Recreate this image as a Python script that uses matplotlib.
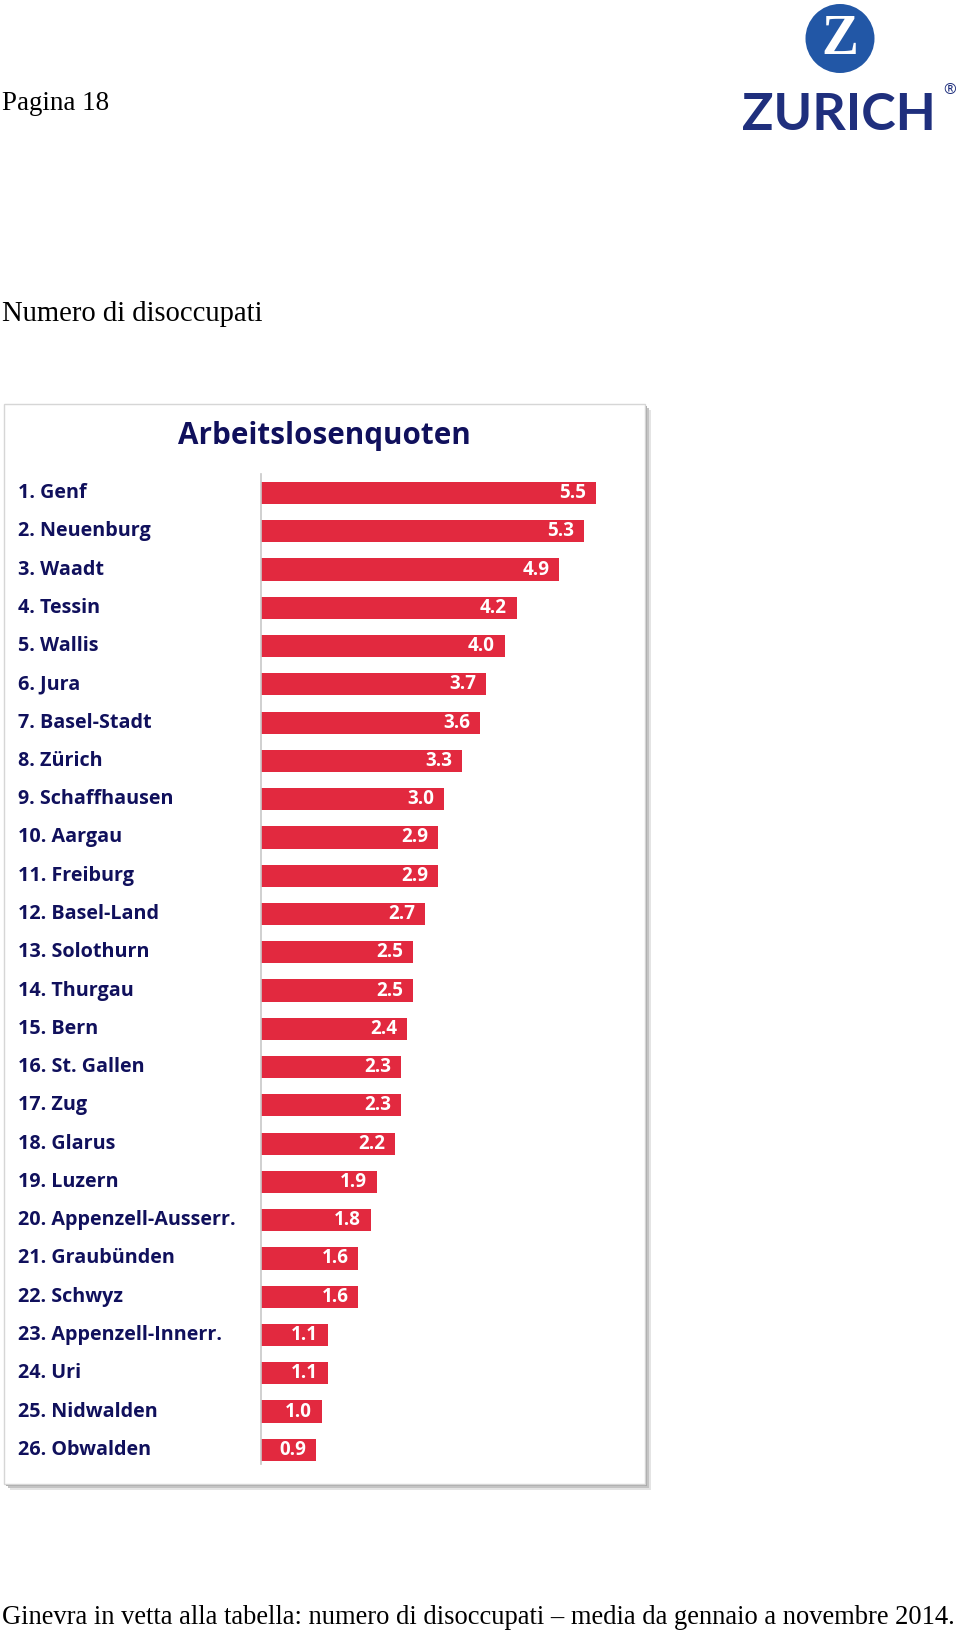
import matplotlib.pyplot as plt
from matplotlib.patches import Rectangle, Circle
from matplotlib.transforms import blended_transform_factory, IdentityTransform

# data (Arbeitslosenquoten, %)
cantons = ["Genf", "Neuenburg", "Waadt", "Tessin", "Wallis", "Jura", "Basel-Stadt",
           "Zürich", "Schaffhausen", "Aargau", "Freiburg", "Basel-Land", "Solothurn",
           "Thurgau", "Bern", "St. Gallen", "Zug", "Glarus", "Luzern",
           "Appenzell-Ausserr.", "Graubünden", "Schwyz", "Appenzell-Innerr.", "Uri",
           "Nidwalden", "Obwalden"]
rates = [5.5, 5.3, 4.9, 4.2, 4.0, 3.7, 3.6, 3.3, 3.0, 2.9, 2.9, 2.7, 2.5,
         2.5, 2.4, 2.3, 2.3, 2.2, 1.9, 1.8, 1.6, 1.6, 1.1, 1.1, 1.0, 0.9]

page_label = "Pagina 18"
heading = "Numero di disoccupati"
chart_title = "Arbeitslosenquoten"
caption = "Ginevra in vetta alla tabella: numero di disoccupati \u2013 media da gennaio a novembre 2014."

W, H = 960, 1634
fig = plt.figure(figsize=(W / 100, H / 100), dpi=100)
fig.patch.set_facecolor("white")

navy = "#10105c"
red = "#e2293f"
sans = ["Open Sans", "DejaVu Sans"]
serif = ["Liberation Serif", "DejaVu Serif"]


def fx(px):
    return px / W


def fy(py):
    return 1 - py / H


def fit_width(t, width_px):
    r = fig.canvas.get_renderer()
    w = t.get_window_extent(r).width
    t.set_fontsize(t.get_fontsize() * width_px / w)


# page texts
t = fig.text(fx(2), fy(104), page_label, family=serif, fontsize=18, va="center")
fit_width(t, 107)
t = fig.text(fx(2), fy(314), heading, family=serif, fontsize=20, va="center")
fit_width(t, 261)
t = fig.text(fx(2), fy(1617), caption, family=serif, fontsize=18, va="center")
fit_width(t, 955)

# logo
fig.patches.append(Circle((840, H - 38.5), 34.5, transform=IdentityTransform(),
                          facecolor="#2257a6", edgecolor="none"))
fig.text(fx(840), fy(40), "Z", family=serif, fontsize=40, fontweight="bold",
         color="white", ha="center", va="center")
t = fig.text(fx(742), fy(115), "ZURICH", family=["Lato", "DejaVu Sans"], fontsize=34,
             fontweight="bold", color="#1f2f7d", va="center")
fit_width(t, 194)
fig.text(fx(950), fy(90), "\u00ae", family=sans, fontsize=11, color="#1f2f7d",
         ha="center", va="center")

# chart card with a soft shadow
for off, col in [(6, "#e4e4e4"), (4, "#c4c4c4"), (2, "#a8a8a8")]:
    fig.patches.append(Rectangle((fx(4 + off), fy(1484 + off)), fx(641), (1080) / H,
                                 transform=fig.transFigure, facecolor=col,
                                 edgecolor="none", zorder=-3))
fig.patches.append(Rectangle((fx(4), fy(1484)), fx(641), 1080 / H,
                             transform=fig.transFigure, facecolor="white",
                             edgecolor="#d6d6d6", linewidth=1, zorder=-2))

t = fig.text(fx(324), fy(436), chart_title, family=sans, fontsize=19,
             fontweight="bold", color=navy, ha="center", va="center")
fit_width(t, 291)

ax = fig.add_axes([fx(261), fy(1464), fx(646 - 261), (1464 - 474) / H])
ax.patch.set_visible(False)
pos = list(range(len(rates)))
ax.barh(pos, rates, height=0.58, color=red)
ax.set_xlim(0, 385 / 60.9)
ax.set_ylim(25.37, -0.496)
for s in ["top", "right", "bottom"]:
    ax.spines[s].set_visible(False)
ax.spines["left"].set_color("#c8c8c8")
ax.spines["left"].set_linewidth(1.2)
ax.set_xticks([])
ax.set_yticks([])

lab_tr = blended_transform_factory(fig.transFigure, ax.transData)
for i, (name, v) in enumerate(zip(cantons, rates)):
    ax.text(fx(18), i, f"{i + 1}. {name}", transform=lab_tr, family=sans,
            fontsize=14.2, fontweight="bold", color=navy, ha="left", va="center",
            clip_on=False)
    ax.annotate(f"{v:.1f}", xy=(v, i), xytext=(-7, 0), textcoords="offset points",
                family=sans, fontsize=13.5, fontweight="bold", color="white",
                ha="right", va="center")

fig.savefig("out.png", dpi=100)
